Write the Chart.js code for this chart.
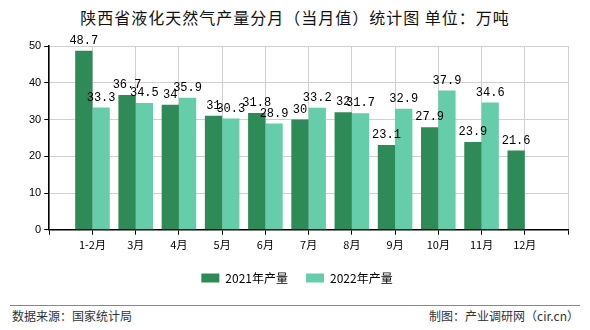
<!DOCTYPE html>
<html>
<head>
<meta charset="utf-8">
<script src="https://cdn.jsdelivr.net/npm/chart.js@4"></script>
<style>
  body { margin: 0; width: 590px; height: 330px; background: #fff; position: relative; overflow: hidden; font-family: "Noto Sans CJK SC", sans-serif; }
  #title { position: absolute; top: 5px; left: 0; width: 590px; text-align: center; font-size: 16px; letter-spacing: 1px; color: #111; }
  #wrap { position: absolute; left: 0; top: 0; width: 590px; height: 300px; }
  #line { position: absolute; left: 10px; top: 305px; width: 570px; border-top: 1px solid #888; }
  #src { position: absolute; left: 12px; top: 307px; font-size: 12px; color: #333; }
  #maker { position: absolute; right: 11px; top: 307px; font-size: 12px; color: #333; }
</style>
</head>
<body>
<div id="title">陕西省液化天然气产量分月（当月值）统计图 单位：万吨</div>
<div id="wrap"><canvas id="c"></canvas></div>
<div id="line"></div>
<div id="src">数据来源：国家统计局</div>
<div id="maker">制图：产业调研网（cir.cn）</div>
<script>
const months = ['1-2月', '3月', '4月', '5月', '6月', '7月', '8月', '9月', '10月', '11月', '12月'];
const output2021 = [48.7, 36.7, 34, 31, 31.8, 30, 32, 23.1, 27.9, 23.9, 21.6];
const output2022 = [33.3, 34.5, 35.9, 30.3, 28.9, 33.2, 31.7, 32.9, 37.9, 34.6, null];
const yTicks = [0, 10, 20, 30, 40, 50];

// empty slot at each end so the first and last groups sit one step in from the axis ends
const labels = [''].concat(months, ['']);
const pad = arr => [null].concat(arr, [null]);

const valueLabels = {
  id: 'valueLabels',
  afterDatasetsDraw(chart) {
    const ctx = chart.ctx;
    ctx.save();
    ctx.font = '12px "Liberation Mono", monospace';
    ctx.fillStyle = '#000';
    ctx.textAlign = 'center';
    ctx.textBaseline = 'bottom';
    chart.data.datasets.forEach((ds, di) => {
      chart.getDatasetMeta(di).data.forEach((bar, i) => {
        const v = ds.data[i];
        if (v === null || v === undefined) return;
        ctx.fillText(String(v), bar.x, bar.y - 4);
      });
    });
    ctx.restore();
  }
};

new Chart(document.getElementById('c').getContext('2d'), {
  type: 'bar',
  data: {
    labels: labels,
    datasets: [
      { label: '2021年产量', data: pad(output2021), backgroundColor: '#2e8b57' },
      { label: '2022年产量', data: pad(output2022), backgroundColor: '#66cdaa' }
    ]
  },
  options: {
    responsive: true,
    maintainAspectRatio: false,
    animation: false,
    categoryPercentage: 0.8,
    barPercentage: 1,
    layout: { padding: { left: 26, right: 22, top: 46, bottom: 6 } },
    plugins: {
      tooltip: { enabled: false },
      legend: {
        position: 'bottom',
        labels: { boxWidth: 18, boxHeight: 9, padding: 18, color: '#000', font: { size: 12, family: '"Noto Sans CJK SC", sans-serif' } }
      }
    },
    scales: {
      x: {
        offset: false,
        grid: { offset: false, color: '#d0d0d0', tickColor: '#000', tickLength: 5 },
        border: { color: '#000', width: 1.5 },
        ticks: { color: '#000', autoSkip: false, maxRotation: 0, font: { size: 11, family: '"Noto Sans CJK SC", sans-serif' } }
      },
      y: {
        min: 0,
        max: 50,
        afterBuildTicks: axis => { axis.ticks = yTicks.map(v => ({ value: v })); },
        grid: { color: '#d0d0d0', tickColor: '#000', tickLength: 5 },
        border: { color: '#000', width: 1.5 },
        ticks: { color: '#000', font: { size: 11, family: '"Liberation Sans", sans-serif' } }
      }
    }
  },
  plugins: [valueLabels]
});
</script>
</body>
</html>
